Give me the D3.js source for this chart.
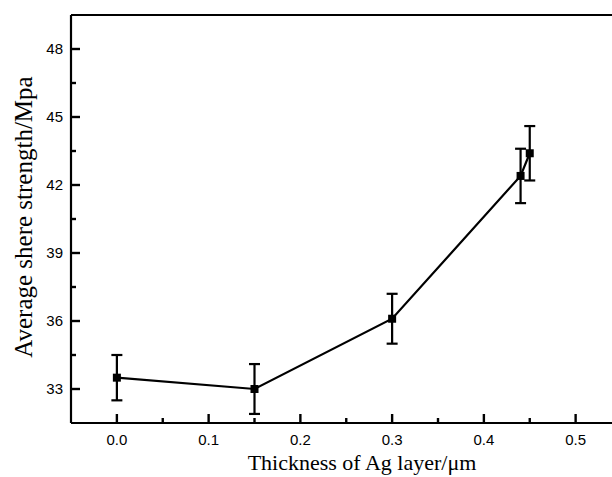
<!DOCTYPE html>
<html>
<head>
<meta charset="utf-8">
<script src="https://cdn.jsdelivr.net/npm/d3@7"></script>
<style>
  html, body { margin: 0; padding: 0; background: #fff; }
  svg { display: block; }
</style>
</head>
<body>
<svg id="chart" width="612" height="477"></svg>
<script>
// Ag layer thickness (µm) and the measured average shear strength (MPa)
const thickness = [0.0, 0.15, 0.30, 0.44, 0.45];
const strength  = [33.5, 33.0, 36.1, 42.4, 43.4];
const errorBars = [1.0, 1.1, 1.1, 1.2, 1.2];

const xMajorTicks = [0.0, 0.1, 0.2, 0.3, 0.4, 0.5];
const xMinorTicks = [0.05, 0.15, 0.25, 0.35, 0.45];
const yMajorTicks = [33, 36, 39, 42, 45, 48];
const yMinorTicks = [34.5, 37.5, 40.5, 43.5, 46.5];

const xTitle = "Thickness of Ag layer/\u03bcm";
const yTitle = "Average shere strength/Mpa";

const svg = d3.select("#chart");
const plotLeft = 71, plotTop = 15, plotRight = 621.5, plotBottom = 423;

const x = d3.scaleLinear().domain([-0.05, 0.55]).range([plotLeft, plotRight]);
const y = d3.scaleLinear().domain([31.5, 49.5]).range([plotBottom, plotTop]);

const tickFont = "'Liberation Sans', Arial, sans-serif";
const titleFont = "'Liberation Serif', 'Times New Roman', serif";
const SW = 2.2;

const axes = svg.append("g").attr("stroke", "#000").attr("stroke-width", SW);

// frame
axes.append("line").attr("x1", plotLeft).attr("x2", plotRight).attr("y1", plotBottom).attr("y2", plotBottom);
axes.append("line").attr("x1", plotLeft).attr("x2", plotLeft).attr("y1", plotTop).attr("y2", plotBottom);
axes.append("line").attr("x1", plotLeft).attr("x2", plotRight).attr("y1", plotTop).attr("y2", plotTop);
axes.append("line").attr("x1", plotRight).attr("x2", plotRight).attr("y1", plotTop).attr("y2", plotBottom);

// inward ticks on the bottom axis
axes.selectAll(".xmaj").data(xMajorTicks).join("line").attr("class", "xmaj")
  .attr("x1", d => x(d)).attr("x2", d => x(d)).attr("y1", plotBottom).attr("y2", plotBottom - 9)
  .attr("stroke-width", 2.4);
axes.selectAll(".xmin").data(xMinorTicks).join("line").attr("class", "xmin")
  .attr("x1", d => x(d)).attr("x2", d => x(d)).attr("y1", plotBottom).attr("y2", plotBottom - 5)
  .attr("stroke-width", 2.4);

// inward ticks on the left axis
axes.selectAll(".ymaj").data(yMajorTicks).join("line").attr("class", "ymaj")
  .attr("y1", d => y(d)).attr("y2", d => y(d)).attr("x1", plotLeft).attr("x2", plotLeft + 9)
  .attr("stroke-width", 2.4);
axes.selectAll(".ymin").data(yMinorTicks).join("line").attr("class", "ymin")
  .attr("y1", d => y(d)).attr("y2", d => y(d)).attr("x1", plotLeft).attr("x2", plotLeft + 5)
  .attr("stroke-width", 2.4);

// tick labels
const fmtX = d3.format(".1f"), fmtY = d3.format("d");
svg.append("g").selectAll("text").data(xMajorTicks).join("text")
  .attr("x", d => x(d)).attr("y", plotBottom + 22).attr("text-anchor", "middle")
  .attr("font-family", tickFont).attr("font-size", 15).attr("fill", "#000")
  .text(fmtX);
svg.append("g").selectAll("text").data(yMajorTicks).join("text")
  .attr("x", plotLeft - 8).attr("y", d => y(d)).attr("dy", "0.36em").attr("text-anchor", "end")
  .attr("font-family", tickFont).attr("font-size", 15).attr("fill", "#000")
  .text(fmtY);

const pts = thickness.map((t, i) => ({ t, v: strength[i], e: errorBars[i] }));

// connecting line
svg.append("path").datum(pts)
  .attr("fill", "none").attr("stroke", "#000").attr("stroke-width", SW)
  .attr("d", d3.line().x(d => x(d.t)).y(d => y(d.v)));

// error bars
const eb = svg.append("g").attr("stroke", "#000").attr("stroke-width", SW);
pts.forEach(d => {
  const cx = x(d.t);
  eb.append("line").attr("x1", cx).attr("x2", cx).attr("y1", y(d.v + d.e)).attr("y2", y(d.v - d.e));
  eb.append("line").attr("x1", cx - 5.5).attr("x2", cx + 5.5).attr("y1", y(d.v + d.e)).attr("y2", y(d.v + d.e));
  eb.append("line").attr("x1", cx - 5.5).attr("x2", cx + 5.5).attr("y1", y(d.v - d.e)).attr("y2", y(d.v - d.e));
});

// square markers
svg.append("g").selectAll("rect").data(pts).join("rect")
  .attr("x", d => x(d.t) - 4).attr("y", d => y(d.v) - 4)
  .attr("width", 8).attr("height", 8).attr("fill", "#000");

// axis titles
svg.append("text").attr("x", 362).attr("y", 470).attr("text-anchor", "middle")
  .attr("font-family", titleFont).attr("font-size", 22).attr("fill", "#000")
  .text(xTitle);
svg.append("text").attr("transform", "translate(32,217) rotate(-90)").attr("text-anchor", "middle")
  .attr("font-family", titleFont).attr("font-size", 25).attr("fill", "#000")
  .text(yTitle);
</script>
</body>
</html>
